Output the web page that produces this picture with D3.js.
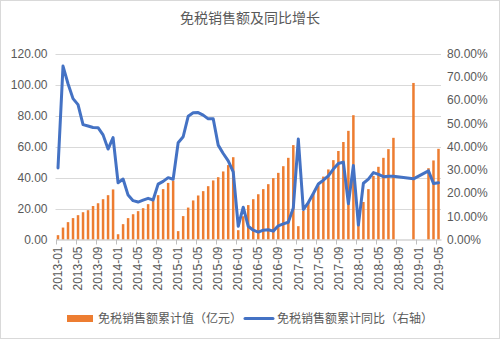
<!DOCTYPE html>
<html>
<head>
<meta charset="utf-8">
<script src="https://cdn.jsdelivr.net/npm/d3@7"></script>
<style>
  html, body { margin: 0; padding: 0; background: #fff; }
  svg { display: block; }
  text { font-family: "Liberation Sans", Arial, "Noto Sans CJK SC", sans-serif; fill: #595959; }
  .cjk { font-family: "Noto Sans CJK SC", "Liberation Sans", sans-serif; }
</style>
</head>
<body>
<svg id="chart" width="500" height="339"></svg>
<script>
const title = "免税销售额及同比增长";
const seriesBarName = "免税销售额累计值（亿元）";
const seriesLineName = "免税销售额累计同比（右轴）";

const months = [
  "2013-01","2013-02","2013-03","2013-04","2013-05","2013-06","2013-07","2013-08","2013-09","2013-10","2013-11","2013-12",
  "2014-01","2014-02","2014-03","2014-04","2014-05","2014-06","2014-07","2014-08","2014-09","2014-10","2014-11","2014-12",
  "2015-01","2015-02","2015-03","2015-04","2015-05","2015-06","2015-07","2015-08","2015-09","2015-10","2015-11","2015-12",
  "2016-01","2016-02","2016-03","2016-04","2016-05","2016-06","2016-07","2016-08","2016-09","2016-10","2016-11","2016-12",
  "2017-01","2017-02","2017-03","2017-04","2017-05","2017-06","2017-07","2017-08","2017-09","2017-10","2017-11","2017-12",
  "2018-01","2018-02","2018-03","2018-04","2018-05","2018-06","2018-07","2018-08","2018-09","2018-10","2018-11","2018-12",
  "2019-01","2019-02","2019-03","2019-04","2019-05"
];

// 免税销售额累计值（亿元）
const salesCum = [
  2.8, 7.7, 11.2, 13.8, 15.7, 17.6, 18.9, 21.6, 23.4, 26.0, 28.6, 32.3,
  3.4, 9.9, 13.8, 16.3, 18.3, 20.2, 22.8, 24.9, 28.6, 32.5, 36.5, 38.0,
  5.4, 15.1, 20.6, 25.2, 28.4, 31.2, 34.4, 38.1, 40.2, 43.9, 48.0, 53.1,
  6.0, 15.0, 22.2, 26.0, 29.2, 32.5, 35.7, 39.6, 43.0, 47.3, 52.7, 60.9,
  8.6, 18.5, 24.5, 29.5, 35.0, 40.6, 45.2, 51.2, 57.1, 62.9, 70.1, 80.2,
  11.0, 24.2, 32.5, 41.0, 46.9, 52.7, 58.3, 65.6, null, null, null, 101.0,
  null, null, 46.0, 51.0, 58.5
];

// 免税销售额累计同比（%）
const yoyCum = [
  30.8, 74.6, 67.0, 60.6, 58.0, 49.4, 48.8, 48.2, 48.1, 45.0, 38.9, 43.8,
  24.4, 26.0, 19.1, 16.7, 16.1, 16.9, 17.7, 17.0, 23.8, 25.0, 26.6, 25.9,
  41.6, 44.2, 53.0, 54.5, 54.6, 53.5, 51.9, 51.9, 40.6, 37.0, 33.8, 29.1,
  5.7, 13.9, 5.7, 4.0, 3.2, 4.0, 4.2, 3.6, 5.9, 6.7, 7.4, 13.6,
  43.2, 12.9, 15.9, 19.8, 23.9, 25.5, 27.4, 30.3, 32.7, 33.3, 15.4, 31.8,
  6.2, 24.2, 26.0, 28.8, 28.0, 27.0, 27.2, 27.2, null, null, null, 26.1,
  null, null, 29.5, 24.1, 24.4
];

const leftTicks = [0, 20, 40, 60, 80, 100, 120];
const rightTicks = [0, 10, 20, 30, 40, 50, 60, 70, 80];

const W = 500, H = 339;
const plot = { left: 55.5, right: 441, top: 53.5, bottom: 239.5 };

const svg = d3.select("#chart");

// outer border
svg.append("rect").attr("x", 0.5).attr("y", 0.5).attr("width", W - 1).attr("height", H - 1)
  .attr("fill", "#fff").attr("stroke", "#d9d9d9").attr("stroke-width", 1);

// title
svg.append("text").attr("class", "cjk")
  .attr("x", 250).attr("y", 18).attr("dy", "0.35em")
  .attr("text-anchor", "middle").style("font-size", "14px").style("fill", "#595959")
  .text(title);

const x = d3.scaleBand().domain(months).range([plot.left, plot.right]).paddingInner(0).paddingOuter(0);
const yL = d3.scaleLinear().domain([0, 120]).range([plot.bottom, plot.top]);
const yR = d3.scaleLinear().domain([0, 80]).range([plot.bottom, plot.top]);

// gridlines
svg.append("g").selectAll("line").data(leftTicks.slice(1)).join("line")
  .attr("x1", plot.left).attr("x2", plot.right)
  .attr("y1", d => Math.round(yL(d)) + 0.5).attr("y2", d => Math.round(yL(d)) + 0.5)
  .attr("stroke", "#d9d9d9").attr("stroke-width", 1);

// left axis labels
const leftAxis = d3.axisLeft(yL).tickValues(leftTicks).tickSize(0).tickPadding(8)
  .tickFormat(d => d3.format(".2f")(d));
const gL = svg.append("g").attr("transform", `translate(${plot.left},0)`).call(leftAxis);
gL.select(".domain").remove();
gL.selectAll("text").style("font-size", "12px").style("fill", "#595959")
  .style("font-family", "'Liberation Sans', Arial, sans-serif");

// right axis labels
const rightAxis = d3.axisRight(yR).tickValues(rightTicks).tickSize(0).tickPadding(6)
  .tickFormat(d => d3.format(".2f")(d) + "%");
const gR = svg.append("g").attr("transform", `translate(${plot.right},0)`).call(rightAxis);
gR.select(".domain").remove();
gR.selectAll("text").style("font-size", "12px").style("fill", "#595959")
  .style("font-family", "'Liberation Sans', Arial, sans-serif");

// bars
const barW = x.bandwidth() * 0.5;
svg.append("g").selectAll("rect")
  .data(months.map((m, i) => ({ m, v: salesCum[i] })).filter(d => d.v != null))
  .join("rect")
  .attr("x", d => x(d.m) + (x.bandwidth() - barW) / 2)
  .attr("width", barW)
  .attr("y", d => yL(d.v))
  .attr("height", d => yL(0) - yL(d.v))
  .attr("fill", "#ED7D31");

// x axis
const labelMonths = months.filter((m, i) => i % 4 === 0);
const xAxis = d3.axisBottom(x).tickValues(labelMonths).tickSize(0).tickPadding(0);
const gX = svg.append("g").attr("transform", `translate(0,${plot.bottom})`).call(xAxis);
gX.select(".domain").attr("stroke", "#bfbfbf");
gX.selectAll(".tick line").remove();
gX.selectAll(".tick text")
  .style("font-size", "12px").style("fill", "#595959")
  .style("font-family", "'Liberation Sans', Arial, sans-serif")
  .attr("text-anchor", "end")
  .attr("transform", "translate(0,7) rotate(-90)")
  .attr("x", 0).attr("y", 0).attr("dy", "0.35em");
// tick marks at category boundaries
svg.append("g").selectAll("line").data(labelMonths).join("line")
  .attr("x1", d => Math.round(x(d)) + 0.5).attr("x2", d => Math.round(x(d)) + 0.5)
  .attr("y1", plot.bottom).attr("y2", plot.bottom + 5)
  .attr("stroke", "#bfbfbf").attr("stroke-width", 1);

// line
const lineData = months.map((m, i) => ({ m, v: yoyCum[i] })).filter(d => d.v != null);
const line = d3.line()
  .x(d => x(d.m) + x.bandwidth() / 2)
  .y(d => yR(d.v));
svg.append("path").datum(lineData)
  .attr("d", line)
  .attr("fill", "none").attr("stroke", "#4472C4").attr("stroke-width", 3)
  .attr("stroke-linejoin", "round").attr("stroke-linecap", "round");

// legend
const lg = svg.append("g");
lg.append("rect").attr("x", 67).attr("y", 315).attr("width", 26).attr("height", 7).attr("fill", "#ED7D31");
lg.append("text").attr("class", "cjk").attr("x", 98).attr("y", 318.5).attr("dy", "0.35em")
  .style("font-size", "12px").style("fill", "#595959").text(seriesBarName);
lg.append("line").attr("x1", 245).attr("x2", 273).attr("y1", 318.5).attr("y2", 318.5)
  .attr("stroke", "#4472C4").attr("stroke-width", 3).attr("stroke-linecap", "round");
lg.append("text").attr("class", "cjk").attr("x", 277).attr("y", 318.5).attr("dy", "0.35em")
  .style("font-size", "12px").style("fill", "#595959").text(seriesLineName);
</script>
</body>
</html>
